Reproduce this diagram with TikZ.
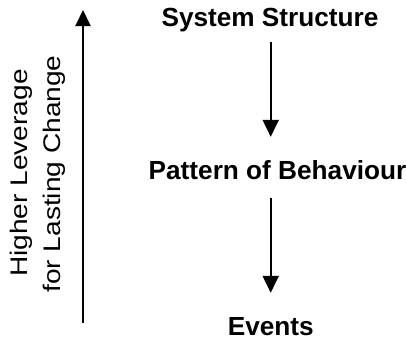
\documentclass[tikz,border=0pt]{standalone}
\usepackage{fontspec}
\setmainfont{Liberation Sans}
\usetikzlibrary{arrows.meta}
\begin{document}
\begin{tikzpicture}[x=1pt,y=-1pt,
  level/.style={font=\bfseries\fontsize{26.2}{30}\selectfont, inner sep=0pt, text height=19pt, text depth=5.5pt},
  sidetext/.style={font=\fontsize{24}{28}\selectfont, inner sep=0pt, rotate=90, xscale=1.17},
  flow/.style={line width=2pt, -{Triangle[length=17pt,width=16pt]}}]
\useasboundingbox (0,0) rectangle (406,340);
\node[level, anchor=base] (ss) at (270,26) {System Structure};
\node[level, anchor=base west] (pb) at (148.5,179) {Pattern of Behaviour};
\node[level, anchor=base] (ev) at (270.8,335) {Events};
\draw[flow, shorten <=10.5pt, shorten >=23pt] (ss.south -| 270.7,0) -- (pb.north -| 270.7,0);
\draw[flow, shorten <=13.5pt, shorten >=23pt] (pb.south -| 270.7,0) -- (ev.north -| 270.7,0);
\node[sidetext, anchor=base] (l1) at (27,173) {Higher Leverage};
\node[sidetext, anchor=base] (l2) at (60,174) {for Lasting Change};
\coordinate (lb) at (83,323);
\coordinate (lt) at (83,10);
\draw[line width=2pt, -{Triangle[length=16pt,width=15pt]}] (lb) -- (lt);
\end{tikzpicture}
\end{document}
